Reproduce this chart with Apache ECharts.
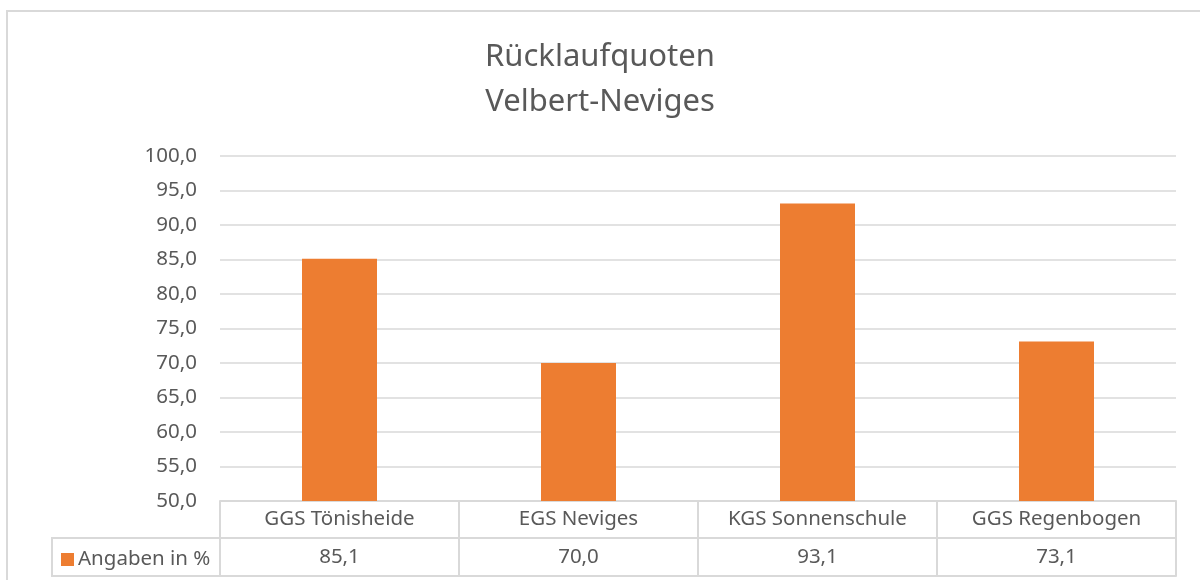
<!DOCTYPE html>
<html>
<head>
	<meta charset="UTF-8">
	<title>Rücklaufquoten Velbert-Neviges</title>
	<script src="https://cdn.jsdelivr.net/npm/echarts@6/dist/echarts.min.js"></script>
	<style>
		html, body { margin: 0; padding: 0; background: #fff; }
		#chart { width: 1200px; height: 580px; }
	</style>
</head>
<body>
	<div id="chart"></div>
	<script type="text/javascript">
		// Schulen (Kategorien)
		var schulen = ['GGS Tönisheide', 'EGS Neviges', 'KGS Sonnenschule', 'GGS Regenbogen'];
		// Rücklaufquote in %
		var quoten = [85.1, 70.0, 93.1, 73.1];
		// Y-Achse
		var yMin = 50;
		var yMax = 100;
		var yStep = 5;

		var reihenName = 'Angaben in %';
		var grau = '#d9d9d9';
		var textFarbe = '#595959';
		var schrift = '"Noto Sans", sans-serif';

		function komma(v) {
			return v.toFixed(1).replace('.', ',');
		}

		var myChart = echarts.init(document.getElementById('chart'));

		var option = {
			animation: false,
			title: {
				text: 'Rücklaufquoten\nVelbert-Neviges',
				left: 'center',
				top: 30,
				textStyle: {
					fontFamily: schrift,
					fontSize: 31,
					fontWeight: 'normal',
					color: textFarbe,
					lineHeight: 45
				}
			},
			legend: {
				data: [reihenName],
				left: 56,
				top: 544,
				icon: 'rect',
				itemWidth: 13,
				itemHeight: 13,
				itemGap: 4,
				textStyle: {
					fontFamily: schrift,
					fontSize: 20.5,
					color: textFarbe,
					padding: [0, 0, 0, -1]
				}
			},
			grid: {
				left: 220,
				right: 24,
				top: 156,
				bottom: 79
			},
			xAxis: [{
				// Kopfzeile der Datentabelle
				type: 'category',
				data: schulen,
				position: 'bottom',
				axisLine: { show: true, lineStyle: { color: grau, width: 2 } },
				axisTick: { show: true, length: 75, interval: 0, lineStyle: { color: grau, width: 2 } },
				axisLabel: {
					interval: 0,
					margin: 18,
					verticalAlign: 'middle',
					fontFamily: schrift,
					fontSize: 20.5,
					color: textFarbe
				}
			}, {
				// Wertezeile der Datentabelle
				type: 'category',
				data: quoten.map(komma),
				position: 'bottom',
				offset: 37,
				axisLine: { show: true, lineStyle: { color: grau, width: 2 } },
				axisTick: { show: false },
				axisLabel: {
					interval: 0,
					margin: 19,
					verticalAlign: 'middle',
					fontFamily: schrift,
					fontSize: 20.5,
					color: textFarbe
				}
			}, {
				// untere Tabellenlinie
				type: 'category',
				data: schulen,
				position: 'bottom',
				offset: 75,
				axisLine: { show: true, lineStyle: { color: grau, width: 2 } },
				axisTick: { show: false },
				axisLabel: { show: false }
			}],
			yAxis: {
				type: 'value',
				min: yMin,
				max: yMax,
				interval: yStep,
				axisLine: { show: false },
				axisTick: { show: false },
				axisLabel: {
					margin: 23,
					fontFamily: schrift,
					fontSize: 20.5,
					color: textFarbe,
					formatter: function (v) { return komma(v); }
				},
				splitLine: { lineStyle: { color: grau, width: 1.5 } }
			},
			series: [{
				name: reihenName,
				type: 'bar',
				data: quoten,
				barWidth: 75,
				itemStyle: { color: '#ed7d31' }
			}],
			graphic: [{
				// Rahmen des Diagrammbereichs
				type: 'rect',
				shape: { x: 7, y: 11, width: 1220, height: 600 },
				style: { fill: 'none', stroke: grau, lineWidth: 2 },
				silent: true
			}, {
				// Legendenzelle der Datentabelle
				type: 'rect',
				shape: { x: 52, y: 538, width: 168, height: 38 },
				style: { fill: 'none', stroke: grau, lineWidth: 2 },
				silent: true
			}]
		};

		myChart.setOption(option);
	</script>
</body>
</html>
